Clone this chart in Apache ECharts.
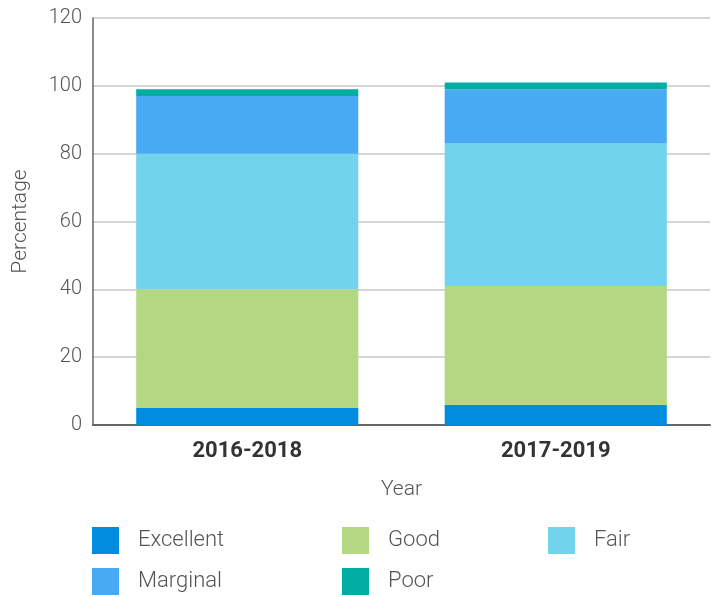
<!DOCTYPE html>
<html>
<head>
<meta charset="UTF-8">
<title></title>
<script src="https://cdn.jsdelivr.net/npm/echarts@6/dist/echarts.min.js"></script>
<style>
html,body{margin:0;padding:0;background:#fff;}
#chart{width:715px;height:597px;}
</style>
</head>
<body>
<div id="chart"></div>
<script type="text/javascript">
var years = ['2016-2018', '2017-2019'];
var excellent = [5, 6];
var good = [35, 35];
var fair = [40, 42];
var marginal = [17, 16];
var poor = [2, 2];
var yTicks = [0, 20, 40, 60, 80, 100, 120];

var colors = {
    Excellent: '#028ce0',
    Good: '#b3d783',
    Fair: '#71d4ec',
    Marginal: '#47aaf3',
    Poor: '#00ada2'
};

function bar(name, data) {
    return {
        name: name,
        type: 'bar',
        stack: 'total',
        barWidth: '72%',
        itemStyle: { color: colors[name] },
        data: data
    };
}

// one legend per column, so the columns line up like the original
function legendCol(left, names) {
    return {
        orient: 'vertical',
        left: left,
        top: 527,
        padding: 0,
        itemWidth: 27,
        itemHeight: 27,
        itemGap: 14,
        icon: 'rect',
        selectedMode: false,
        textStyle: { fontSize: 22, color: '#555', fontFamily: 'Roboto', fontWeight: 300, padding: [0, 0, 0, 14] },
        data: names
    };
}

var chart = echarts.init(document.getElementById('chart'));
chart.setOption({
    animation: false,
    textStyle: { fontFamily: 'Roboto' },
    grid: { left: 93, right: 5, top: 18, bottom: 172 },
    legend: [
        legendCol(92, ['Excellent', 'Marginal']),
        legendCol(342, ['Good', 'Poor']),
        legendCol(548, ['Fair'])
    ],
    xAxis: {
        type: 'category',
        data: years,
        name: 'Year',
        nameLocation: 'middle',
        nameGap: 54,
        nameTextStyle: { fontSize: 21, color: '#555', fontFamily: 'Roboto', fontWeight: 300 },
        axisLine: { lineStyle: { color: '#666', width: 2 } },
        axisTick: { show: false },
        axisLabel: { fontSize: 22, fontWeight: 'bold', color: '#333', margin: 15 }
    },
    yAxis: {
        type: 'value',
        min: yTicks[0],
        max: yTicks[yTicks.length - 1],
        interval: 20,
        name: 'Percentage',
        nameLocation: 'middle',
        nameGap: 62,
        nameTextStyle: { fontSize: 21, color: '#555', fontFamily: 'Roboto', fontWeight: 300 },
        axisLine: { show: true, lineStyle: { color: '#666', width: 1.5 } },
        axisTick: { show: false },
        axisLabel: { fontSize: 20, color: '#555', fontWeight: 300, margin: 11 },
        splitLine: { lineStyle: { color: '#c8c8c8', width: 1.5 } }
    },
    series: [
        bar('Excellent', excellent),
        bar('Good', good),
        bar('Fair', fair),
        bar('Marginal', marginal),
        bar('Poor', poor)
    ]
});
</script>
</body>
</html>
